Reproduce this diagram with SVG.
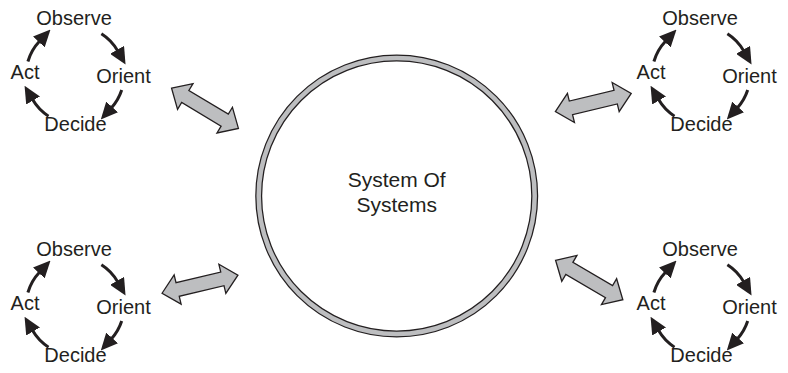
<svg xmlns="http://www.w3.org/2000/svg" width="788" height="373" viewBox="0 0 788 373">
<style>
  .lbl { font-family: "Liberation Sans", Arial, sans-serif; font-size: 20px; fill: #231f20; text-anchor: middle; }
  .ctr { font-family: "Liberation Sans", Arial, sans-serif; font-size: 21px; fill: #231f20; text-anchor: middle; }
  .arc { fill: none; stroke: #231f20; stroke-width: 3; marker-end: url(#head); }
  .blk { fill: #bdbec0; stroke: #231f20; stroke-width: 1.3; stroke-linejoin: miter; }
</style>
<defs>
  <marker id="head" markerUnits="userSpaceOnUse" viewBox="0 0 17 16" markerWidth="17" markerHeight="16" refX="1" refY="8" orient="auto">
    <path d="M0,0 L17,8 L0,16 Z" fill="#231f20"/>
  </marker>
  <g id="ooda">
    <text class="lbl" x="74" y="25">Observe</text>
    <text class="lbl" x="25" y="79">Act</text>
    <text class="lbl" x="123.5" y="83">Orient</text>
    <text class="lbl" x="75.5" y="131">Decide</text>
    <path class="arc" d="M27.9,61.5 A49,49 0 0 1 39.5,41.2"/>
    <path class="arc" d="M101.4,33.7 A49,49 0 0 1 117.6,50.7"/>
    <path class="arc" d="M121.7,90 A49,49 0 0 1 111.5,107.7"/>
    <path class="arc" d="M48.5,116.2 A49,49 0 0 1 32.6,99.6"/>
  </g>
  <polygon id="dbl" points="-39,0 -23,-15 -23,-7 23,-7 23,-15 39,0 23,15 23,7 -23,7 -23,15"/>
</defs>

<g id="system-of-systems">
  <circle cx="396.7" cy="196" r="138" fill="#ffffff" stroke="#231f20" stroke-width="7"/>
  <circle cx="396.7" cy="196" r="138" fill="none" stroke="#bdbec0" stroke-width="4.5"/>
  <text class="ctr" x="396.7" y="186.7">System Of</text>
  <text class="ctr" x="396.7" y="211.7">Systems</text>
</g>

<g id="ooda-top-left"><use href="#ooda"/></g>
<g id="ooda-top-right" transform="translate(626,0)"><use href="#ooda"/></g>
<g id="ooda-bottom-left" transform="translate(0,231)"><use href="#ooda"/></g>
<g id="ooda-bottom-right" transform="translate(626,231)"><use href="#ooda"/></g>

<g id="connectors">
  <use href="#dbl" class="blk" transform="translate(205,108.3) rotate(31)"/>
  <use href="#dbl" class="blk" transform="translate(593.3,102.5) rotate(-13.5)"/>
  <use href="#dbl" class="blk" transform="translate(200,284.2) rotate(-13.4)"/>
  <use href="#dbl" class="blk" transform="translate(589.2,280) rotate(30.4)"/>
</g>
</svg>
